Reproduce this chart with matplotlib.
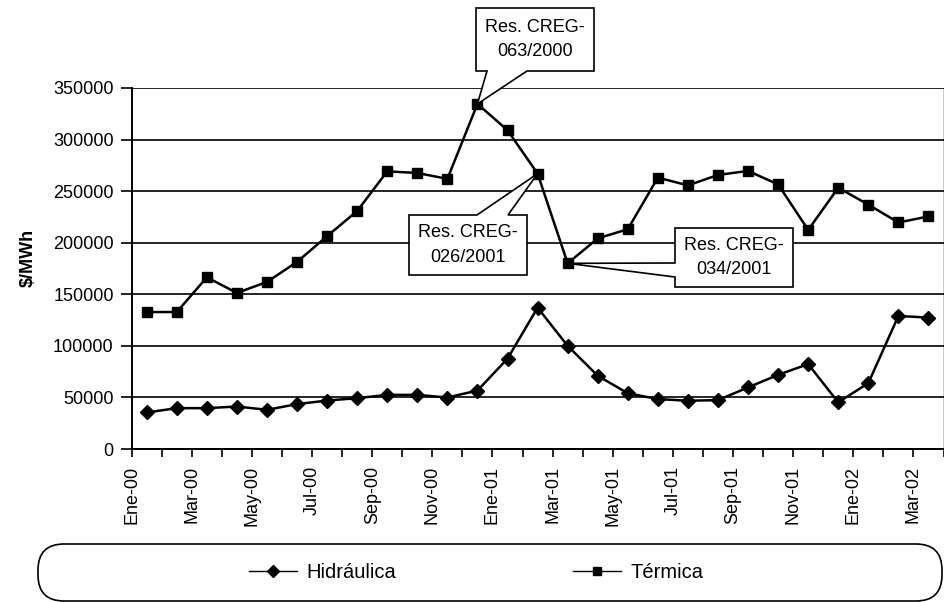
import matplotlib
matplotlib.use("Agg")
import matplotlib.pyplot as plt
from matplotlib.lines import Line2D
from matplotlib.patches import Polygon, FancyBboxPatch
from matplotlib.transforms import IdentityTransform

plt.rcParams['font.family'] = ['Liberation Sans', 'DejaVu Sans']

# Precio medio de bolsa por tipo de generación, ene-2000 a mar-2002 ($/MWh)
meses = ['Ene', 'Feb', 'Mar', 'Abr', 'May', 'Jun', 'Jul', 'Ago', 'Sep', 'Oct', 'Nov', 'Dic']
periodos = [f'{m}-{a:02d}' for a in (0, 1, 2) for m in meses][:27]

hidraulica = [35400, 39600, 39600, 41200, 38000, 43500, 47000, 49300, 52500,
              52500, 49900, 56700, 87600, 137000, 100000, 71000, 54000, 48400,
              46800, 47400, 59700, 71900, 82300, 45200, 63900, 129000, 127400]
termica = [132800, 132800, 166500, 151300, 162000, 181400, 206400, 230800,
           269200, 267600, 261900, 334600, 309000, 267000, 180000, 204200,
           213100, 263100, 255600, 265700, 269600, 256500, 212400, 253300,
           236900, 219600, 225500]

# resoluciones CREG y el mes al que apunta cada una
resoluciones = ['Res. CREG-\n063/2000', 'Res. CREG-\n026/2001', 'Res. CREG-\n034/2001']
mes_resolucion = [11, 13, 14]

W, H = 944, 602
fig = plt.figure(figsize=(W / 100, H / 100), dpi=100)
ax = fig.add_axes([131.7 / W, 1 - 449 / H, (943.5 - 131.7) / W, (449 - 88) / H])

x = [i + 0.5 for i in range(len(periodos))]
ax.plot(x, hidraulica, color='black', lw=1.8, marker='D', ms=7.5, label='Hidráulica')
ax.plot(x, termica, color='black', lw=1.8, marker='s', ms=7.5, label='Térmica')

ax.set_xlim(0, len(periodos))
ax.set_ylim(0, 350000)
ax.set_yticks(range(0, 350001, 50000))
ax.yaxis.grid(True, color='black', lw=1.2)
ax.set_axisbelow(True)

ax.set_xticks(range(len(periodos) + 1))
ax.set_xticklabels([p if i % 2 == 0 else '' for i, p in enumerate(periodos)] + [''],
                   rotation=90)
ax.tick_params(axis='x', direction='out', length=6, width=1.2, pad=6, labelsize=13)
ax.tick_params(axis='y', direction='out', length=8, width=1.2, pad=5, labelsize=13)

for s in ('left', 'bottom'):
    ax.spines[s].set_linewidth(1.4)
ax.spines['right'].set_linewidth(1.0)
ax.spines['top'].set_visible(False)

ax.set_ylabel('$/MWh', fontsize=13, fontweight='bold')
ax.yaxis.set_label_coords(-0.117, 0.53)


def a_fig(px, py):
    return px / W, 1 - py / H


def punta(i):
    xd, yd = ax.transData.transform((x[i], termica[i]))
    return fig.transFigure.inverted().transform((xd, yd))


# recuadros de llamada: caja + cuña hacia el punto
cajas = [
    dict(caja=(476, 8, 594, 71), base='abajo', b=(487, 527)),
    dict(caja=(409, 215, 527, 275), base='arriba', b=(477, 508)),
    dict(caja=(675, 228, 793, 287), base='izq', b=(263, 277)),
]
for txt, i, c in zip(resoluciones, mes_resolucion, cajas):
    x0, y0, x1, y1 = c['caja']
    p = tuple(punta(i))
    b0, b1 = c['b']
    if c['base'] == 'abajo':
        pts = [a_fig(x0, y0), a_fig(x1, y0), a_fig(x1, y1), a_fig(b1, y1), p,
               a_fig(b0, y1), a_fig(x0, y1)]
    elif c['base'] == 'arriba':
        pts = [a_fig(x0, y0), a_fig(b0, y0), p, a_fig(b1, y0), a_fig(x1, y0),
               a_fig(x1, y1), a_fig(x0, y1)]
    else:
        pts = [a_fig(x0, y0), a_fig(x1, y0), a_fig(x1, y1), a_fig(x0, y1),
               a_fig(x0, b1), p, a_fig(x0, b0)]
    fig.add_artist(Polygon(pts, closed=True, transform=fig.transFigure,
                           facecolor='white', edgecolor='black', lw=1.2, zorder=5))
    cx, cy = a_fig((x0 + x1) / 2, (y0 + y1) / 2)
    fig.text(cx, cy, txt, ha='center', va='center', fontsize=13,
             linespacing=1.55, zorder=6)

# marco redondeado de la leyenda
marco = FancyBboxPatch((38, 1), 904, 57, boxstyle='round,pad=0,rounding_size=26',
                       transform=IdentityTransform(), facecolor='white',
                       edgecolor='black', lw=1.2)
fig.add_artist(marco)
handles = [Line2D([], [], color='black', lw=1.0, marker='D', ms=6),
           Line2D([], [], color='black', lw=1.0, marker='s', ms=6)]
fig.legend(handles, ['Hidráulica', 'Térmica'], loc='center',
           bbox_to_anchor=(476 / W, 1 - 573 / H), ncol=2, frameon=False,
           fontsize=14.5, handlelength=2.4, handletextpad=0.45, columnspacing=8.8)

fig.savefig('out.png', dpi=100)
